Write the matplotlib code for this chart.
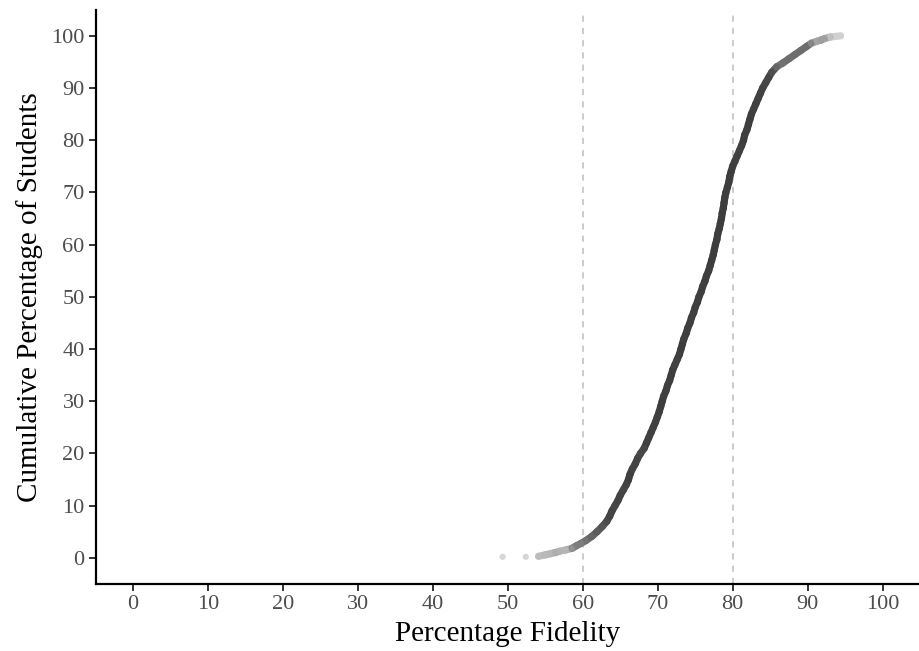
import numpy as np
import matplotlib
matplotlib.use("Agg")
import matplotlib.pyplot as plt
from matplotlib.collections import LineCollection

# 累积分布点 (保真度 %, 累积学生百分比 %)
fidelity = [49.3, 52.4, 54.1, 55.0, 55.7, 56.3, 57.0, 57.7, 58.6, 59.2,
            59.8, 60.4, 61.2, 61.9, 62.6, 63.2, 63.6, 63.9, 64.3, 64.7,
            65.0, 65.4, 65.8, 66.1, 66.3, 66.6, 67.0, 67.3, 67.7, 68.2,
            68.5, 68.8, 69.1, 69.4, 69.7, 69.95, 70.2, 70.4, 70.6, 70.8,
            71.1, 71.3, 71.6, 71.8, 72.0, 72.3, 72.6, 72.9, 73.1, 73.3,
            73.5, 73.8, 74.0, 74.3, 74.5, 74.8, 75.0, 75.3, 75.5, 75.8,
            76.0, 76.3, 76.5, 76.8, 77.0, 77.2, 77.4, 77.55, 77.7, 77.9,
            78.0, 78.2, 78.35, 78.5, 78.6, 78.75, 78.85, 78.95, 79.1, 79.3,
            79.5, 79.6, 79.8, 80.0, 80.3, 80.6, 80.9, 81.2, 81.45, 81.6,
            81.9, 82.1, 82.3, 82.5, 82.8, 83.1, 83.4, 83.7, 84.0, 84.4,
            84.8, 85.2, 85.9, 86.7, 87.5, 88.3, 89.1, 89.8, 90.5, 91.3,
            91.8, 92.3, 93.1, 94.4]
cum_pct = [0.2, 0.2, 0.3, 0.57, 0.8, 1.0, 1.3, 1.5, 1.85, 2.36,
           2.8, 3.3, 4.1, 5, 6, 7, 8, 9, 10, 11,
           12, 13, 14, 15, 16, 17, 18, 19, 20, 21,
           22, 23, 24, 25, 26, 27, 28, 29, 30, 31,
           32, 33, 34, 35, 36, 37, 38, 39, 40, 41,
           42, 43, 44, 45, 46, 47, 48, 49, 50, 51,
           52, 53, 54, 55, 56, 57, 58, 59, 60, 61,
           62, 63, 64, 65, 66, 67, 68, 69, 70, 71,
           72, 73, 74, 75, 76, 77, 78, 79, 80, 81,
           82, 83, 84, 85, 86, 87, 88, 89, 90, 91,
           92, 93, 94.1, 94.8, 95.6, 96.4, 97.2, 97.9, 98.6, 99.0,
           99.2, 99.5, 99.8, 100]
ref_lines = [60, 80]
ticks = list(range(0, 101, 10))

plt.rcParams['font.family'] = ['Liberation Serif', 'DejaVu Serif']

fig = plt.figure(figsize=(9.2, 6.51), dpi=100)
ax = fig.add_axes([0.104, 0.103, 0.896, 0.882])

x = np.array(fidelity, dtype=float)
y = np.array(cum_pct, dtype=float)

# 点重叠程度 ~ 曲线上单位长度内的学生数 (dy/ds)，用来决定灰度
px, py = x * 7.52, y * 5.22
dx, dy = np.diff(px), np.diff(py)
ds = np.hypot(dx, dy)
frac = np.where(ds > 0, dy / np.maximum(ds, 1e-9), 0)
dark_seg = 1 - (1 - 0.18) ** (7.5 * frac)
dark_seg = np.clip(dark_seg, 0.18, 0.76)

for v in ref_lines:
    ax.axvline(v, color='#bdbdbd', linestyle=(0, (4, 4)), linewidth=1.1, zorder=1)

# 稠密部分用连续粗线表示大量重叠的点
keep = ds < 12
segs = [[(x[i], y[i]), (x[i + 1], y[i + 1])] for i in range(len(ds)) if keep[i]]
seg_cols = [str(1 - dark_seg[i]) for i in range(len(ds)) if keep[i]]
lc = LineCollection(segs, colors=seg_cols, linewidths=5.2, capstyle='round', zorder=2)
ax.add_collection(lc)

# 每个点的灰度取相邻线段的平均
dark_pt = np.empty(len(x))
for i in range(len(x)):
    nb = []
    if i > 0 and keep[i - 1]:
        nb.append(dark_seg[i - 1])
    if i < len(ds) and keep[i]:
        nb.append(dark_seg[i])
    dark_pt[i] = np.mean(nb) if nb else 0.16
ax.scatter(x, y, s=20, c=[str(1 - v) for v in dark_pt], edgecolors='none', zorder=3)

ax.set_xlim(-5, 105)
ax.set_ylim(-5, 105)
ax.set_xticks(ticks)
ax.set_yticks(ticks)

for side in ['top', 'right']:
    ax.spines[side].set_visible(False)
for side in ['left', 'bottom']:
    ax.spines[side].set_linewidth(1.6)
    ax.spines[side].set_color('black')

ax.tick_params(axis='both', length=5, width=1.4, color='#333333',
               labelsize=16, labelcolor='#4d4d4d', pad=3)

ax.set_xlabel("Percentage Fidelity", fontsize=21, labelpad=5)
ax.set_ylabel("Cumulative Percentage of Students", fontsize=21, labelpad=6)

plt.savefig("out.png", dpi=100)
